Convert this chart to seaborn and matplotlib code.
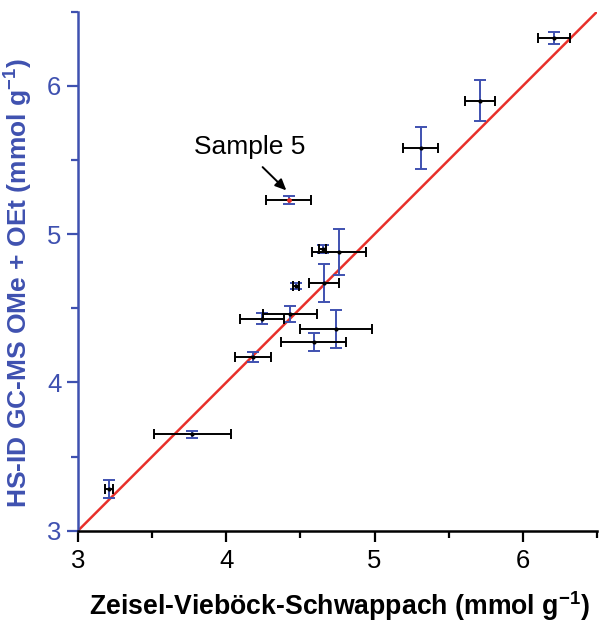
import matplotlib
matplotlib.use("Agg")
import matplotlib.pyplot as plt
from matplotlib.ticker import MultipleLocator
import numpy as np
import pandas as pd
import seaborn as sns

# ---- data ----
zvs = [3.21, 3.77, 4.18, 4.24, 4.43, 4.59, 4.74, 4.47, 4.66, 4.65, 4.76, 4.42, 5.31, 5.71, 6.21]
hsid = [3.28, 3.65, 4.17, 4.43, 4.46, 4.27, 4.36, 4.65, 4.67, 4.90, 4.88, 5.23, 5.58, 5.90, 6.32]
zvs_err = [0.025, 0.26, 0.12, 0.15, 0.18, 0.22, 0.24, 0.02, 0.10, 0.025, 0.18, 0.15, 0.12, 0.10, 0.11]
hsid_err = [0.06, 0.025, 0.035, 0.035, 0.055, 0.06, 0.125, 0.02, 0.13, 0.025, 0.155, 0.03, 0.14, 0.14, 0.04]
highlight = [False] * 11 + [True] + [False] * 3
identity_x = [3.0, 6.5]
identity_y = [3.0, 6.5]
x_ticks = [3, 4, 5, 6]
y_ticks = [3, 4, 5, 6]
annot_text = "Sample 5"

BLUE = "#3F51B0"
RED = "#E8302A"

sns.set_theme(style="ticks")
plt.rcParams["font.family"] = ["Liberation Sans", "DejaVu Sans"]
plt.rcParams["mathtext.fontset"] = "custom"
plt.rcParams["mathtext.rm"] = "Liberation Sans"
plt.rcParams["mathtext.bf"] = "Liberation Sans:bold"
plt.rcParams["mathtext.default"] = "bf"

df = pd.DataFrame({"zvs": zvs, "hsid": hsid, "xerr": zvs_err, "yerr": hsid_err,
                   "hl": highlight})

fig = plt.figure(figsize=(5.99, 6.22), dpi=100)
ax = fig.add_axes([78 / 599, 1 - 530.7 / 622, (597 - 78) / 599, (530.7 - 11.7) / 622])

# identity line
sns.lineplot(x=identity_x, y=identity_y, ax=ax, color=RED, lw=1.8, zorder=2)

# error bars
ax.errorbar(df["zvs"], df["hsid"], yerr=df["yerr"], fmt="none", ecolor=BLUE,
            elinewidth=1.4, capsize=4.2, capthick=1.4, zorder=3)
ax.errorbar(df["zvs"], df["hsid"], xerr=df["xerr"], fmt="none", ecolor="black",
            elinewidth=1.4, capsize=3.8, capthick=1.4, zorder=4)

# centre markers
sns.scatterplot(data=df[~df["hl"]], x="zvs", y="hsid", ax=ax, color="black",
                s=9, linewidth=0, zorder=5)
sns.scatterplot(data=df[df["hl"]], x="zvs", y="hsid", ax=ax, color=RED,
                s=12, linewidth=0, zorder=5)

# annotation
ax.text(4.155, 5.59, annot_text, ha="center", va="center", fontsize=19, color="black")
ax.annotate("", xy=(4.405, 5.295), xytext=(4.245, 5.452),
            arrowprops=dict(arrowstyle="-|>,head_length=0.55,head_width=0.25",
                            color="black", lw=1.4, shrinkA=0, shrinkB=0))

ax.set_xlim(3, 6.5)
ax.set_ylim(3, 6.5)
ax.set_xticks(x_ticks)
ax.set_yticks(y_ticks)
ax.xaxis.set_minor_locator(MultipleLocator(0.5))
ax.yaxis.set_minor_locator(MultipleLocator(0.5))

sns.despine(ax=ax)
ax.spines["left"].set_color(BLUE)
ax.spines["left"].set_linewidth(1.8)
ax.spines["bottom"].set_color("black")
ax.spines["bottom"].set_linewidth(1.8)

ax.tick_params(axis="x", which="major", length=8, width=1.6, colors="black",
               labelsize=18.5, pad=5)
ax.tick_params(axis="x", which="minor", length=5, width=1.6, colors="black")
ax.tick_params(axis="y", which="major", length=8, width=1.6, colors=BLUE,
               labelsize=18.5, pad=4)
ax.tick_params(axis="y", which="minor", length=5, width=1.6, colors=BLUE)

ax.set_xlabel(r"Zeisel-Vieböck-Schwappach (mmol g$^{-1}$)", fontsize=19.2,
              fontweight="bold", color="black")
ax.set_ylabel(r"HS-ID GC-MS OMe + OEt (mmol g$^{-1}$)", fontsize=19,
              fontweight="bold", color=BLUE)
ax.xaxis.set_label_coords(0.503, -0.112)
ax.yaxis.set_label_coords(-0.083, 0.478)

ax.grid(False)
fig.savefig("out.png", dpi=100)
